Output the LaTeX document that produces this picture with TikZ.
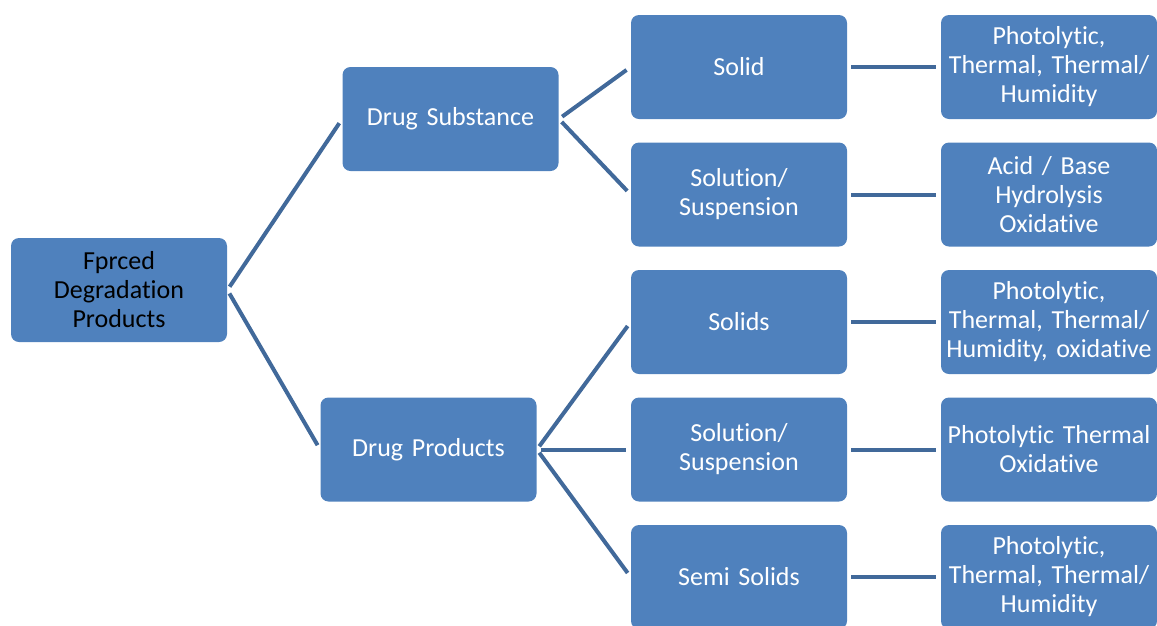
\documentclass[tikz,border=0pt]{standalone}
\usepackage{fontspec}
\setmainfont{Carlito}[Ligatures=NoCommon]
\usetikzlibrary{positioning}
\definecolor{boxblue}{HTML}{4F81BD}
\definecolor{lineblue}{HTML}{41699A}

\begin{document}
\begin{tikzpicture}[x=1pt,y=-1pt,node distance=310pt,
  thick,main node/.style={rectangle,rounded corners=8pt,fill=boxblue,draw=none,
    minimum width=216pt,minimum height=104pt,text width=214pt,inner sep=0pt,
    align=center,text=white,font=\fontsize{26}{29}\selectfont},
  link/.style={draw=lineblue,line width=4pt,shorten <=4pt,shorten >=5pt}]

  \useasboundingbox (0,0) rectangle (1157,625);

  \node[main node,text=black] (fdp) at (119,290) {Fprced\\Degradation\\Products};
  \node[main node] (ds) at (450.5,119) {Drug Substance};
  \node[main node] (dp) at (428.5,449.5) {Drug Products};

  \node[main node] (s1) at (739,67) {Solid};
  \node[main node] (s2) at (739,194.5) {Solution/\\Suspension};
  \node[main node] (p1) at (739,322) {Solids};
  \node[main node] (p2) at (739,449.5) {Solution/\\Suspension};
  \node[main node] (p3) at (739,577) {Semi Solids};

  \node[main node] (c1) [right of=s1] {Photolytic,\\Thermal, Thermal/\\Humidity};
  \node[main node] (c2) [right of=s2] {Acid / Base\\Hydrolysis\\Oxidative};
  \node[main node] (c3) [right of=p1] {Photolytic,\\Thermal, Thermal/\\Humidity, oxidative};
  \node[main node] (c4) [right of=p2] {Photolytic Thermal\\Oxidative};
  \node[main node] (c5) [right of=p3] {Photolytic,\\Thermal, Thermal/\\Humidity};

  \path[link]
    (fdp.east) edge (ds.west)
    (fdp.east) edge (dp.west)
    (ds.east) edge (s1.west)
    (ds.east) edge (s2.west)
    (dp.east) edge (p1.west)
    (dp.east) edge (p2.west)
    (dp.east) edge (p3.west)
    (s1) edge (c1)
    (s2) edge (c2)
    (p1) edge (c3)
    (p2) edge (c4)
    (p3) edge (c5);
\end{tikzpicture}
\end{document}
